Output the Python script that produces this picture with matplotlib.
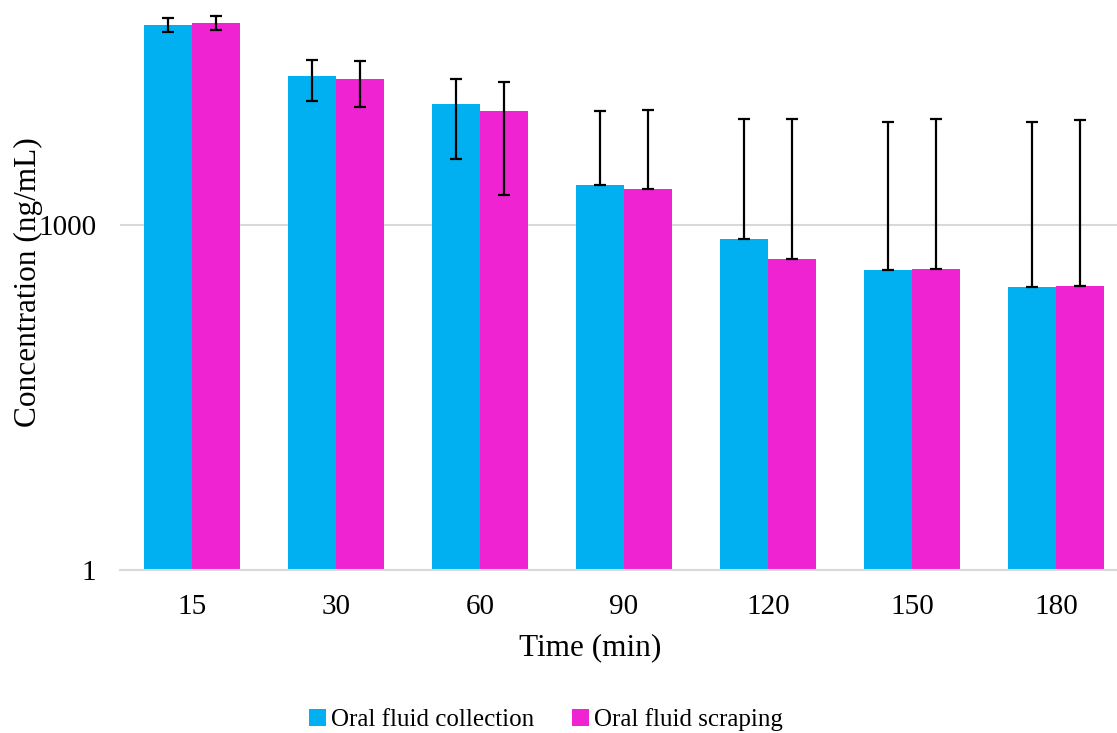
import numpy as np
import matplotlib.pyplot as plt

# Mean concentrations (ng/mL), with SD error bars
times = ["15", "30", "60", "90", "120", "150", "180"]
collection = [55200, 19700, 11250, 2220, 760, 403, 290]
collection_sd = [7700, 7700, 7500, 7620, 7570, 7540, 7550]
scraping = [57800, 18600, 9770, 2060, 506, 414, 294]
scraping_sd = [8300, 8000, 7930, 7980, 7920, 7920, 7910]

blue = "#00B0F0"
pink = "#F023D2"

plt.rcParams['font.family'] = ['Liberation Serif', 'DejaVu Serif']

fig = plt.figure(figsize=(11.17, 7.33), dpi=100)
# plot area runs a little past the right edge, like the cropped original
ax = fig.add_axes([120 / 1117, 163.5 / 733, 1008 / 1117, 569.5 / 733])

x = np.arange(len(times))
w = 1 / 3


def lower_err(vals, sd):
    # Excel drops the minus bar when it would fall below zero on a log axis
    return [s if v - s > 0 else 0 for v, s in zip(vals, sd)]


ax.bar(x - w / 2, collection, width=w, color=blue, label="Oral fluid collection", zorder=2)
ax.bar(x + w / 2, scraping, width=w, color=pink, label="Oral fluid scraping", zorder=2)
ax.errorbar(x - w / 2, collection, yerr=[lower_err(collection, collection_sd), collection_sd],
            fmt="none", ecolor="black", elinewidth=1.6, capsize=4.5, capthick=1.6, zorder=3)
ax.errorbar(x + w / 2, scraping, yerr=[lower_err(scraping, scraping_sd), scraping_sd],
            fmt="none", ecolor="black", elinewidth=1.6, capsize=4.5, capthick=1.6, zorder=3)

ax.set_yscale("log")
ax.set_ylim(1, 10 ** (569.5 / 114.83))
ax.set_xlim(-0.5, len(times) - 0.5)
ax.set_yticks([1, 1000])
ax.set_yticklabels(["1", "1000"])
ax.minorticks_off()
ax.yaxis.grid(True, color="#d9d9d9", linewidth=1.5, zorder=0)
ax.set_axisbelow(True)
ax.set_xticks(x)
ax.set_xticklabels(times)
ax.tick_params(axis="both", length=0, labelsize=21)
ax.tick_params(axis="x", pad=18)
ax.tick_params(axis="y", pad=17)

for side in ["left", "right", "top"]:
    ax.spines[side].set_visible(False)
ax.spines["bottom"].set_color("#d9d9d9")
ax.spines["bottom"].set_linewidth(1.5)

fig.text(590 / 1117, 1 - 648 / 733, "Time (min)", fontsize=22.5, ha="center", va="center")
fig.text(28 / 1117, 1 - 282 / 733, "Concentration (ng/mL)", fontsize=22.5,
         ha="center", va="center", rotation=90)

fig.legend(loc="center", bbox_to_anchor=(546 / 1117, 13 / 733), ncol=2, frameon=False,
           fontsize=18, handlelength=0.7, handleheight=0.7, handletextpad=0.2,
           columnspacing=1.5)

fig.savefig("out.png", dpi=100)
